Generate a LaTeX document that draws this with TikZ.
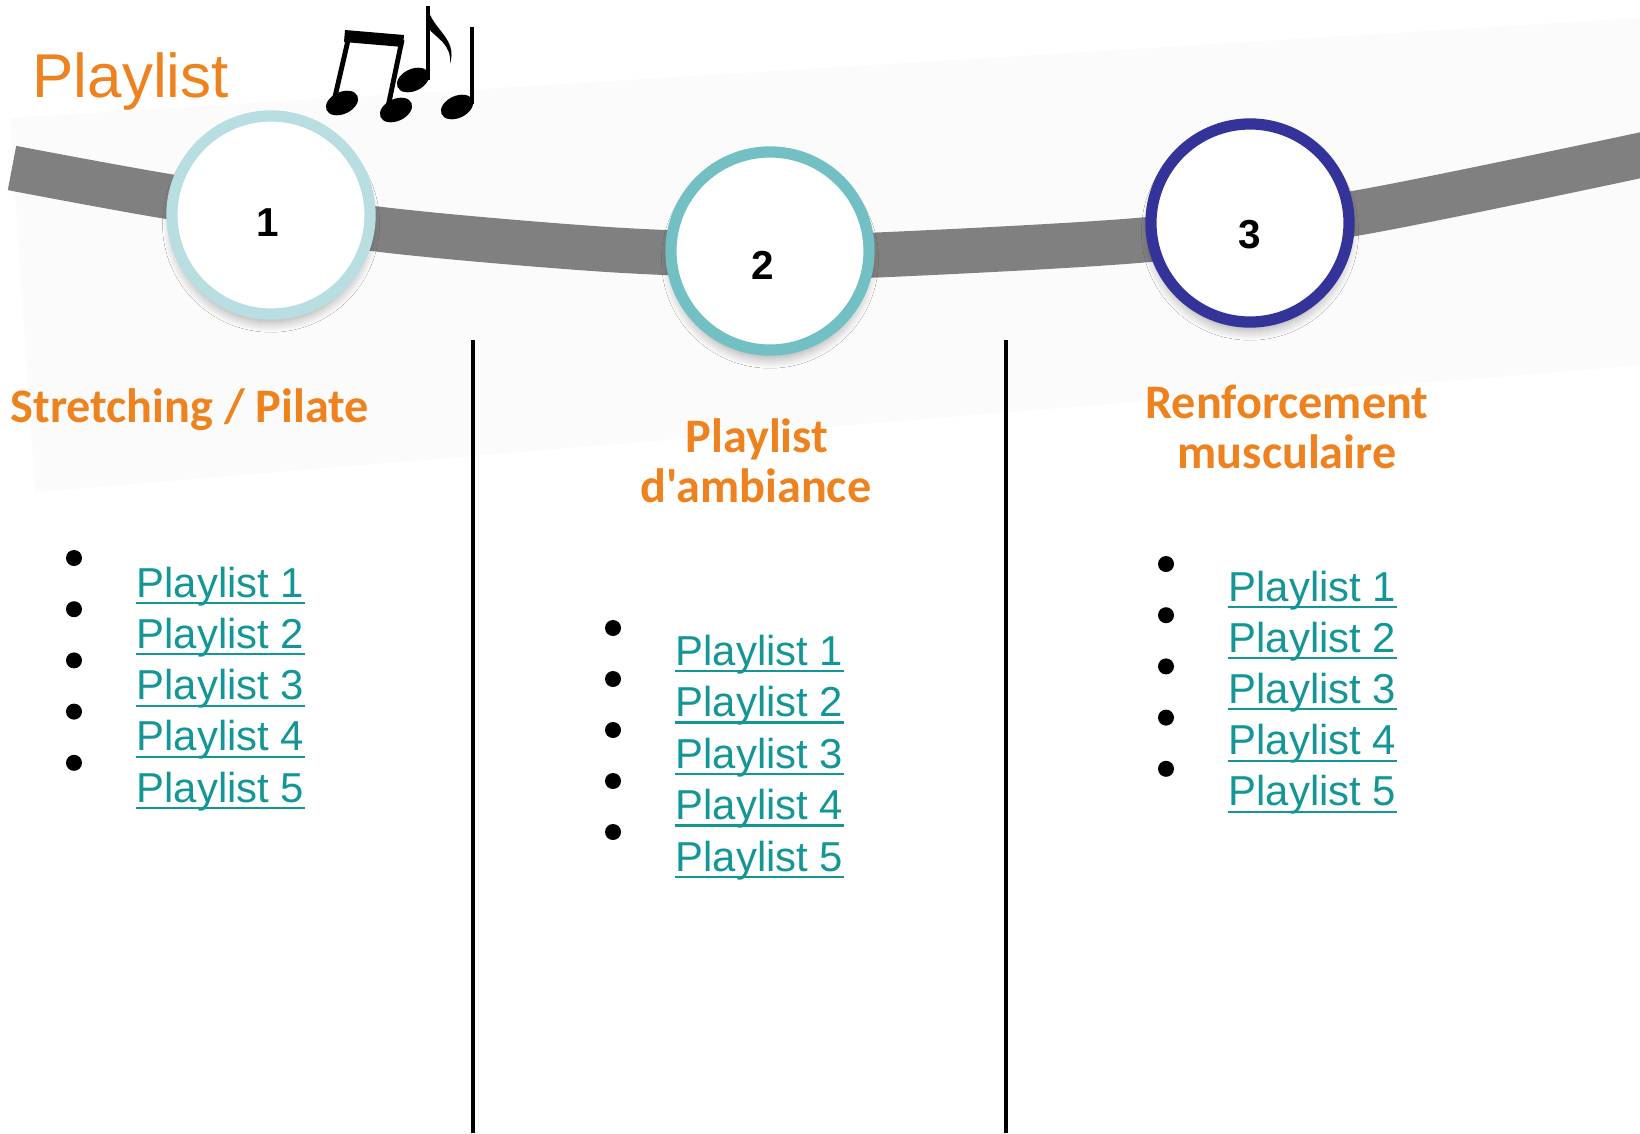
\documentclass[tikz,border=0pt]{standalone}
\usepackage{fontspec}
\setmainfont{Liberation Sans}
\newfontfamily\headfont{Carlito}[Ligatures=TeXOff]
\usepackage{tikz}
\usetikzlibrary{shadows.blur}

\definecolor{titleorange}{RGB}{238,130,30}
\definecolor{linkteal}{RGB}{20,150,150}
\definecolor{ringone}{RGB}{184,222,226}
\definecolor{ringtwo}{RGB}{114,192,196}
\definecolor{ringthree}{RGB}{51,51,153}
\definecolor{bandgray}{RGB}{128,128,128}
\definecolor{paper}{RGB}{251,251,251}

\tikzset{
  stepring/.style={circle, draw=#1, line width=3.2pt, fill=white, minimum size=1.98cm, inner sep=0pt,
    blur shadow={shadow xshift=0pt, shadow yshift=-2.5pt, shadow scale=0.99, shadow blur radius=3pt, shadow opacity=35, shadow blur steps=15}},
  stepnum/.style={inner sep=0pt, font=\fontsize{11.5}{13}\selectfont\bfseries},
  heading/.style={anchor=base, inner sep=0pt, text=titleorange, font=\headfont\bfseries\fontsize{13.7}{16}\selectfont},
  linkitem/.style={anchor=base west, inner sep=0pt, text=linkteal, font=\fontsize{11.9}{14}\selectfont},
  linkline/.style={linkteal, line width=0.6pt},
  bullet/.style={circle, fill=black, minimum size=0.16cm, inner sep=0pt},
  colline/.style={line width=1.1pt},
}

\begin{document}
\begin{tikzpicture}[x=0.01cm, y=-0.01cm]
            \fill[white] (0,0) rectangle (1640,1133);
            \useasboundingbox (0,0) rectangle (1640,1133);
            \fill[paper] (10,118) -- (1640,18) -- (1640,365) -- (1460,380) -- (1120,403) -- (580,447) -- (35,492) -- cycle;
            % the road
            \draw[bandgray, line width=0.45cm] plot[smooth] coordinates {(12,168) (165,196) (377,229) (600,249) (770,256) (877,255) (1143,240) (1357,213) (1665,150)};
            \node[stepring=ringone] (c1) at (271,215) {};
            \node[stepring=ringtwo] (c2) at (770,251) {};
            \node[stepring=ringthree] (c3) at (1250,223) {};
            \node[stepnum] (n1) at (268,223) {1};
            \node[stepnum] (n2) at (763,265) {2};
            \node[stepnum] (n3) at (1250,235) {3};
            % title and notes
            \node[anchor=base west, inner sep=0pt, text=titleorange, font=\fontsize{17.6}{20}\selectfont] (title) at (32,97) {Playlist};
            \fill (345,30) -- (404,35) -- (403,47) -- (344,42) -- cycle;
            \draw[line width=1.4pt] (349,36) -- (334,101);
            \draw[line width=1.4pt] (402,40) -- (388,107);
            \draw[line width=1.4pt] (428,6) -- (428,80);
            \draw[line width=1.4pt] (472,27) -- (472,104);
            \fill (427,6) .. controls (432,30) and (458,38) .. (450,64) .. controls (452,44) and (436,38) .. (428,28) -- cycle;
            \fill[rotate around={25:(342,103)}] (342,103) ellipse [x radius=0.17cm, y radius=0.11cm];
            \fill[rotate around={25:(396,110)}] (396,110) ellipse [x radius=0.17cm, y radius=0.11cm];
            \fill[rotate around={25:(413,80)}] (413,80) ellipse [x radius=0.17cm, y radius=0.11cm];
            \fill[rotate around={25:(457,107)}] (457,107) ellipse [x radius=0.17cm, y radius=0.11cm];
            % columns
            \draw[colline] (473,340) -- (473,1133);
            \draw[colline] (1006,340) -- (1006,1133);
            \node[heading, anchor=base west] (h1) at (10,422) {Stretching / Pilate};
            \node[heading] (h2a) at (757,452) {Playlist};
            \node[heading] (h2b) at (756,502) {d'ambiance};
            \node[heading] (h3a) at (1287,418) {Renforcement};
            \node[heading] (h3b) at (1287,468) {musculaire};
            \foreach \i in {1,...,5} {
                \node[bullet] (ba\i) at (74,{558+51.2*(\i-1)}) {};
                \node[linkitem] (la\i) at (136,{597+51.3*(\i-1)}) {Playlist \i};
                \draw[linkline] ([yshift=-1.7pt]la\i.base west) -- ([yshift=-1.7pt]la\i.base east);
                \node[bullet] (bb\i) at (613,{628+51*(\i-1)}) {};
                \node[linkitem] (lb\i) at (675,{665+51.5*(\i-1)}) {Playlist \i};
                \draw[linkline] ([yshift=-1.7pt]lb\i.base west) -- ([yshift=-1.7pt]lb\i.base east);
                \node[bullet] (bc\i) at (1166,{564+51.2*(\i-1)}) {};
                \node[linkitem] (lc\i) at (1228,{601+51.2*(\i-1)}) {Playlist \i};
                \draw[linkline] ([yshift=-1.7pt]lc\i.base west) -- ([yshift=-1.7pt]lc\i.base east);
            }
\end{tikzpicture}
\end{document}
